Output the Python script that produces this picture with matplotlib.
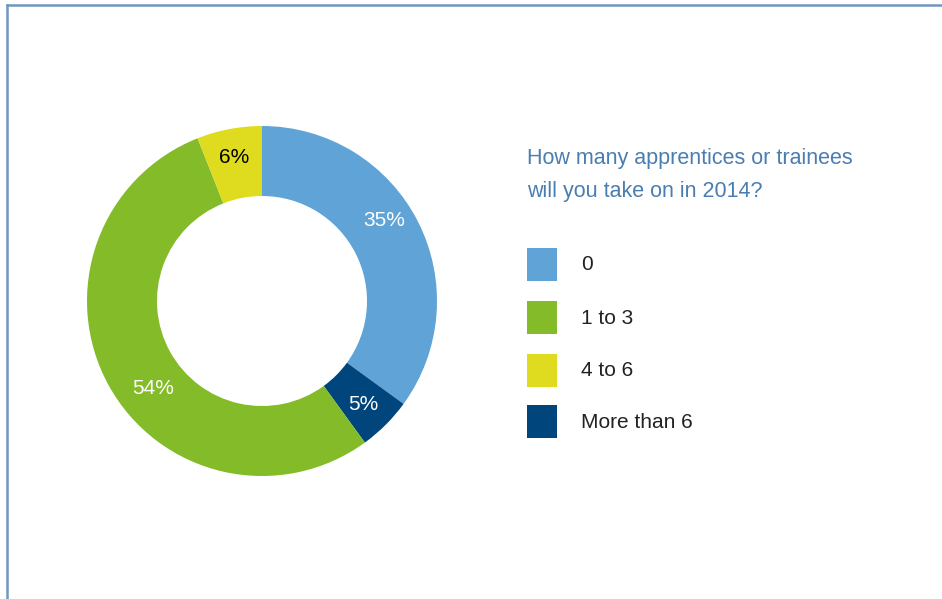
import matplotlib.pyplot as plt
from matplotlib.patches import Rectangle
from matplotlib.lines import Line2D

plt.rcParams['font.family'] = ['Liberation Sans', 'DejaVu Sans']

# survey answers
categories = ['0', 'More than 6', '1 to 3', '4 to 6']
shares = [35, 5, 54, 6]
colors = ['#5fa3d7', '#00457c', '#84bb29', '#dfdc1f']
label_colors = ['white', 'white', 'white', 'black']
# where each percentage sits, in units of the outer radius
label_xy = [(0.70, 0.46), (0.58, -0.59), (-0.62, -0.50), (-0.16, 0.82)]
legend_order = ['0', '1 to 3', '4 to 6', 'More than 6']
title = 'How many apprentices or trainees\nwill you take on in 2014?'

W, H = 942, 599
fig = plt.figure(figsize=(W / 100, H / 100), dpi=100)

# frame lines along the top and the left side
frame_col = '#7098bd'
fig.add_artist(Line2D([7 / W, 1], [1 - 5 / H, 1 - 5 / H], color=frame_col, lw=1.8,
                      transform=fig.transFigure))
fig.add_artist(Line2D([7 / W, 7 / W], [0, 1 - 5 / H], color=frame_col, lw=1.8,
                      transform=fig.transFigure))

# donut
cx, cy, r = 262, 301, 175
box = 185
ax = fig.add_axes([(cx - box) / W, (H - cy - box) / H, 2 * box / W, 2 * box / H])
wedges, texts = ax.pie(shares, colors=colors, startangle=90, counterclock=False,
                       radius=1, wedgeprops=dict(width=0.4, linewidth=0),
                       labels=[f'{s}%' for s in shares],
                       textprops=dict(fontsize=15))
for t, c, xy in zip(texts, label_colors, label_xy):
    t.set_color(c)
    t.set_position(xy)
    t.set_ha('center')
    t.set_va('center')
lim = box / r
ax.set_xlim(-lim, lim)
ax.set_ylim(-lim, lim)
ax.set_aspect('equal')
ax.axis('off')

# question text
fig.text(527 / W, 1 - 148 / H, title, color='#4a7db0', fontsize=15.5,
         va='top', ha='left', linespacing=1.75)

# legend
y_tops = [248, 301, 354, 405]
for cat, yt in zip(legend_order, y_tops):
    col = colors[categories.index(cat)]
    fig.add_artist(Rectangle((527 / W, 1 - (yt + 33) / H), 30 / W, 33 / H,
                             facecolor=col, edgecolor='none', transform=fig.transFigure))
    fig.text(581 / W, 1 - (yt + 17) / H, cat, color='#222222', fontsize=15,
             va='center', ha='left')

fig.savefig('out.png', dpi=100, facecolor='white')
